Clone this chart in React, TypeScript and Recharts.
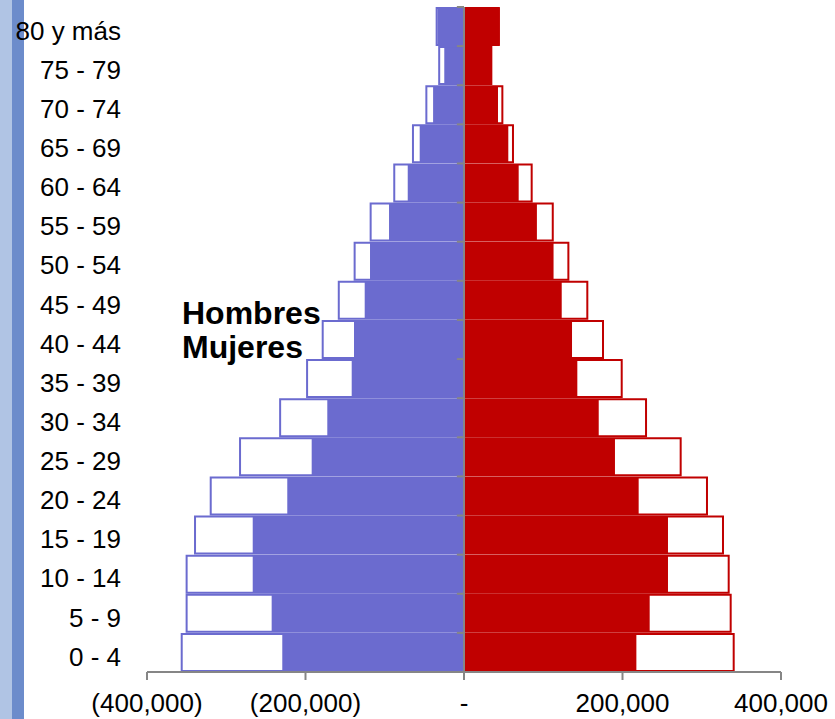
import React from 'react';
import { Bar, BarChart, ReferenceLine, XAxis, YAxis } from 'recharts';

// grupos de edad, de arriba hacia abajo
const ages = [
  '80 y más', '75 - 79', '70 - 74', '65 - 69', '60 - 64', '55 - 59', '50 - 54', '45 - 49',
  '40 - 44', '35 - 39', '30 - 34', '25 - 29', '20 - 24', '15 - 19', '10 - 14', '5 - 9', '0 - 4',
];

// barras rellenas
const menNow = [
  33500, 24900, 39000, 55900, 71000, 94600, 118600, 125300,
  138800, 141700, 172500, 192200, 223000, 266600, 266600, 242700, 229300,
];
const womenNow = [
  45000, 35300, 42900, 55900, 69000, 92000, 113000, 123300,
  136300, 143000, 170000, 190500, 220400, 257400, 257400, 234300, 217500,
];

// barras sin relleno (contorno)
const menOutline = [
  34500, 31300, 47500, 64400, 88000, 117800, 138000, 158000,
  178300, 198000, 232000, 282600, 319600, 339400, 350000, 350000, 356200,
];
const womenOutline = [
  44000, 34500, 48400, 61800, 85400, 112000, 131700, 155600,
  175400, 199000, 229700, 273400, 306600, 326800, 334000, 336500, 340300,
];

const xTicks = [-400000, -200000, 0, 200000, 400000];

const BLUE = '#6B6BCF';
const RED = '#C00000';
const GRAY = '#868686';
const FONT = '"Liberation Sans", Arial, sans-serif';
const TICK_LEN = 9000;

const data = ages.map((age, i) => ({
  age,
  men: -menNow[i],
  women: womenNow[i],
  menOld: -menOutline[i],
  womenOld: womenOutline[i],
}));

function formatX(v: number): string {
  if (v === 0) return '-';
  const s = Math.abs(v).toLocaleString('en-US');
  return v < 0 ? `(${s})` : s;
}

function AgeTick({ x, y, payload }: any) {
  return (
    <text x={x} y={y + 4} dy="0.355em" textAnchor="end" fontSize={26} fontFamily={FONT} fill="#000">
      {payload.value}
    </text>
  );
}

export default function App() {
  return (
    <div style={{ position: 'absolute', left: 0, top: 0, width: 835, height: 719, background: '#fff' }}>
      <div style={{ position: 'absolute', left: 0, top: 0, width: 12, height: 719, background: '#B0C4E4' }} />
      <div style={{ position: 'absolute', left: 12, top: 0, width: 12, height: 719, background: '#6C8CCB' }} />
      <BarChart
        width={835}
        height={719}
        data={data}
        layout="vertical"
        stackOffset="sign"
        barCategoryGap={1}
        margin={{ top: 7, right: 54, bottom: 0, left: 0 }}
        style={{ position: 'absolute', left: 0, top: 0 }}
      >
        <XAxis
          type="number"
          domain={[-400000, 400000]}
          ticks={xTicks}
          tickFormatter={formatX}
          height={47}
          tickSize={8}
          tickMargin={14}
          axisLine={{ stroke: GRAY, strokeWidth: 2 }}
          tickLine={{ stroke: GRAY, strokeWidth: 2 }}
          tick={{ fontSize: 26, fontFamily: FONT, fill: '#000' }}
          allowDataOverflow
        />
        <YAxis
          yAxisId="new"
          type="category"
          dataKey="age"
          width={147}
          axisLine={false}
          tickLine={false}
          tickSize={0}
          tickMargin={26}
          interval={0}
          tick={<AgeTick />}
        />
        <YAxis yAxisId="old" type="category" dataKey="age" hide />
        <Bar dataKey="menOld" yAxisId="old" stackId="old" fill="#fff" stroke={BLUE} strokeWidth={2} isAnimationActive={false} />
        <Bar dataKey="womenOld" yAxisId="old" stackId="old" fill="#fff" stroke={RED} strokeWidth={2} isAnimationActive={false} />
        <Bar dataKey="men" yAxisId="new" stackId="new" fill={BLUE} isAnimationActive={false} />
        <Bar dataKey="women" yAxisId="new" stackId="new" fill={RED} isAnimationActive={false} />
        <ReferenceLine x={0} yAxisId="new" stroke={GRAY} strokeWidth={2} />
        {ages.map((a) => (
          <ReferenceLine
            key={a}
            yAxisId="new"
            position="start"
            segment={[{ x: -TICK_LEN, y: a }, { x: 0, y: a }]}
            stroke={GRAY}
            strokeWidth={2}
          />
        ))}
      </BarChart>
      <div style={{ position: 'absolute', left: 182, top: 297, font: `bold 32px ${FONT}`, lineHeight: '32px', color: '#000' }}>
        Hombres
      </div>
      <div style={{ position: 'absolute', left: 182, top: 331, font: `bold 32px ${FONT}`, lineHeight: '32px', color: '#000' }}>
        Mujeres
      </div>
    </div>
  );
}
